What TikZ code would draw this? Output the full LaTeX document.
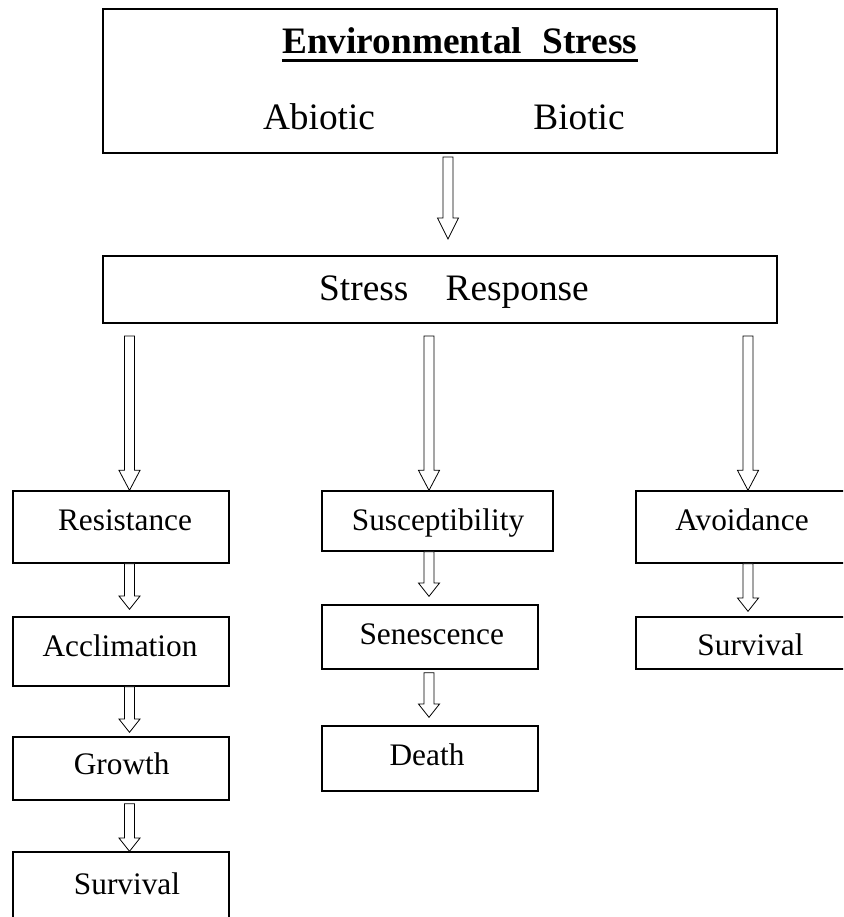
\documentclass[tikz,border=0pt]{standalone}
\usepackage{fontspec}
\setmainfont{Liberation Serif}
\usetikzlibrary{calc,fit}
\tikzset{
  bigbox/.style={draw=black, line width=1.5pt},
  smallbox/.style={draw=black, line width=1pt},
  bigtext/.style={anchor=base, font=\fontsize{28}{32}\selectfont},
  smalltext/.style={anchor=base, font=\fontsize{23.5}{28}\selectfont},
  fatline/.style={draw=black, fill=white, line width=0.6pt, line join=miter}
}
\newcommand{\fatarrow}[3]{%
  \draw [fatline] let \p1=(#1), \p2=(#2) in
    (\x1-3.75pt,\y1) -- (\x1-3.75pt,\y2+#3) -- (\x1-7.9pt,\y2+#3) -- (\x1,\y2)
    -- (\x1+7.9pt,\y2+#3) -- (\x1+3.75pt,\y2+#3) -- (\x1+3.75pt,\y1) -- cycle;}

\begin{document}
\begin{tikzpicture}[x=0.75pt,y=-0.75pt]
    \tikzstyle{every node}+=[inner sep=0pt]
    \useasboundingbox (0,0) rectangle (843,917);
    \clip (0,0) rectangle (843,917);
    \coordinate (colT) at (448,0);
    \coordinate (colL) at (129.5,0);
    \coordinate (colM) at (429,0);
    \coordinate (colR) at (748,0);
    \node [bigbox, fit={(103,9) (777,153)}] (env) {};
    \node [bigtext, font=\fontsize{28}{32}\selectfont\bfseries] (envtitle) at (459.7,53.3) {Environmental\hspace{0.55em}Stress};
    \draw [line width=2pt] ([yshift=-5.5pt]envtitle.base west) -- ([yshift=-5.5pt]envtitle.base east);
    \node [bigtext] (abiotic) at (319,129.3) {Abiotic};
    \node [bigtext] (biotic) at (579,129.3) {Biotic};
    \node [bigbox, fit={(103,256) (777,323)}] (sr) {};
    \node [bigtext] (srtxt) at (454,300) {Stress\quad Response};
    \node [smallbox, fit={(13,491) (229,563)}] (res) {};
    \node [smalltext] (restxt) at (125,530.7) {Resistance};
    \node [smallbox, fit={(13,617) (229,686)}] (acc) {};
    \node [smalltext] (acctxt) at (120,656.7) {Acclimation};
    \node [smallbox, fit={(13,737) (229,800)}] (gro) {};
    \node [smalltext] (grotxt) at (121.7,774.3) {Growth};
    \node [smallbox, fit={(13,852) (229,925)}] (srvL) {};
    \node [smalltext] (srvLtxt) at (127,894.3) {Survival};
    \node [smallbox, fit={(322,491) (553,551)}] (sus) {};
    \node [smalltext] (sustxt) at (438,530.7) {Susceptibility};
    \node [smallbox, fit={(322,605) (538,669)}] (sen) {};
    \node [smalltext] (sentxt) at (431.7,644) {Senescence};
    \node [smallbox, fit={(322,726) (538,791)}] (dth) {};
    \node [smalltext] (dthtxt) at (427,765) {Death};
    \node [smallbox, fit={(636,491) (860,563)}] (avo) {};
    \node [smalltext] (avotxt) at (742,530) {Avoidance};
    \node [smallbox, fit={(636,617) (860,669)}] (srvR) {};
    \node [smalltext] (srvRtxt) at (750.5,655) {Survival};
    \fatarrow{$(env.south -| colT)+(0,3)$}{$(sr.north -| colT)+(0,-16)$}{15.75pt}
    \fatarrow{$(sr.south -| colL)+(0,12)$}{res.north -| colL}{15pt}
    \fatarrow{$(sr.south -| colM)+(0,12)$}{sus.north -| colM}{15pt}
    \fatarrow{$(sr.south -| colR)+(0,12)$}{avo.north -| colR}{15pt}
    \fatarrow{res.south -| colL}{$(acc.north -| colL)+(0,-7)$}{10pt}
    \fatarrow{acc.south -| colL}{$(gro.north -| colL)+(0,-4)$}{10pt}
    \fatarrow{$(gro.south -| colL)+(0,3)$}{srvL.north -| colL}{10pt}
    \fatarrow{sus.south -| colM}{$(sen.north -| colM)+(0,-8)$}{10pt}
    \fatarrow{$(sen.south -| colM)+(0,3)$}{$(dth.north -| colM)+(0,-8)$}{10pt}
    \fatarrow{avo.south -| colR}{$(srvR.north -| colR)+(0,-5)$}{10pt}
\end{tikzpicture}
\end{document}
